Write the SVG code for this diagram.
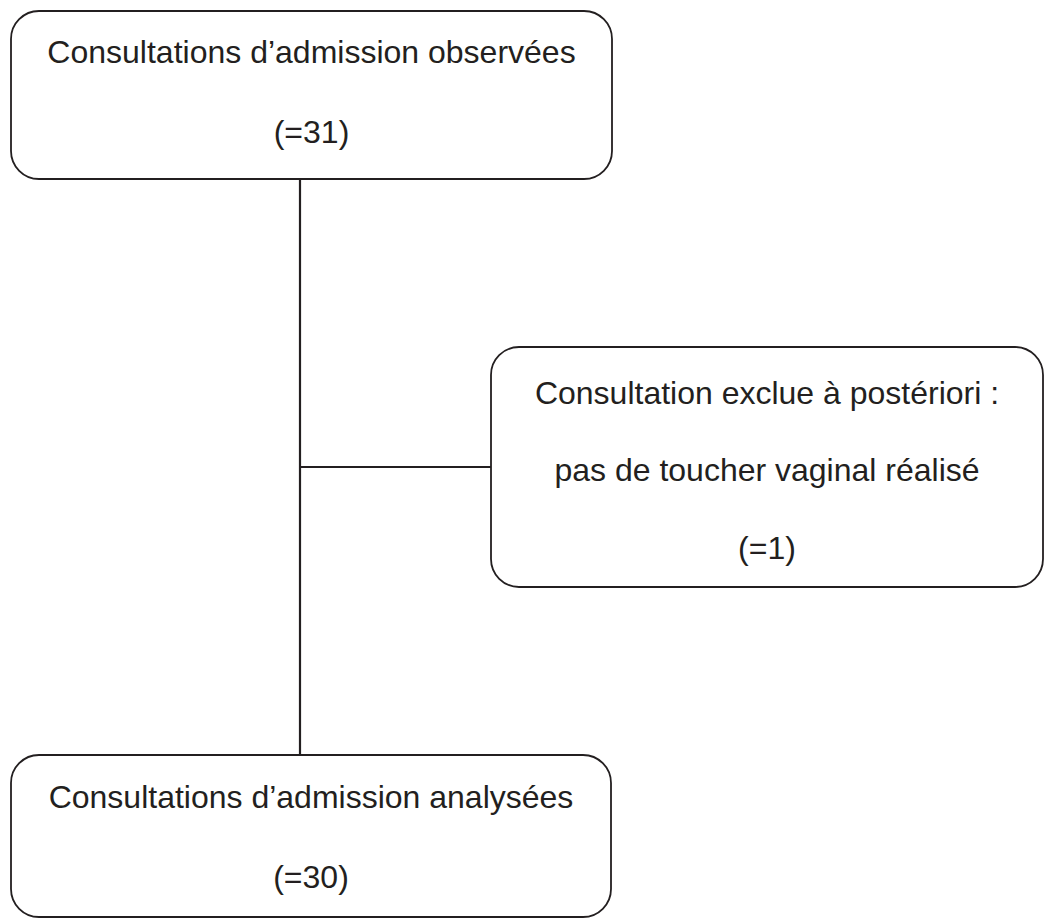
<svg xmlns="http://www.w3.org/2000/svg" width="1045" height="920" viewBox="0 0 1045 920">
<style>
.box{fill:#fff;stroke:#231f20;stroke-width:1.8}
.ln{stroke:#231f20;stroke-width:2.2;fill:none}
text{font-family:"Liberation Sans",Arial,sans-serif;font-size:32px;fill:#231f20;text-anchor:middle}
</style>
<rect width="1045" height="920" fill="#fff"/>
<g id="connectors">
<line class="ln" x1="300" y1="179" x2="300" y2="755"/>
<line class="ln" x1="300" y1="467" x2="491" y2="467"/>
</g>
<g id="node1">
<rect class="box" x="11" y="11" width="601" height="168" rx="28" ry="28"/>
<text x="311.5" y="63">Consultations d’admission observées</text>
<text x="311.5" y="143">(=31)</text>
</g>
<g id="node2">
<rect class="box" x="491" y="347" width="552" height="240" rx="28" ry="28"/>
<text x="767" y="404">Consultation exclue à postériori :</text>
<text x="767" y="481">pas de toucher vaginal réalisé</text>
<text x="767" y="559">(=1)</text>
</g>
<g id="node3">
<rect class="box" x="11" y="755" width="600" height="162" rx="28" ry="28"/>
<text x="311" y="808">Consultations d’admission analysées</text>
<text x="311" y="888">(=30)</text>
</g>
</svg>
